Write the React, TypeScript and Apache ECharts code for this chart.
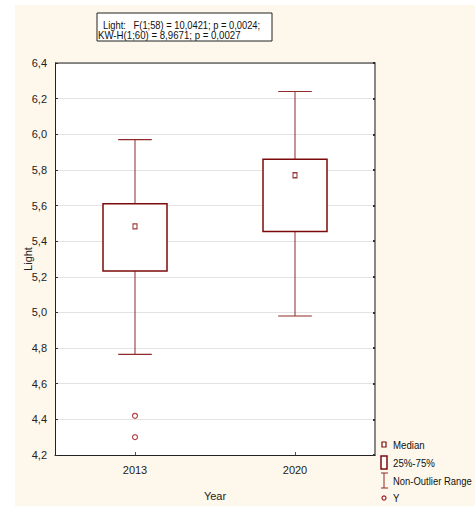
import React, { useEffect, useRef } from "react";
import * as echarts from "echarts";

const categories = ["2013", "2020"];
const whiskerMin = [4.765, 4.98];
const boxQ1 = [5.232, 5.455];
const boxQ3 = [5.61, 5.86];
const whiskerMax = [5.97, 6.24];
const medians = [5.483, 5.77];
const outliers2013 = [4.42, 4.3];
const yMin = 4.2;
const yMax = 6.4;
const yInterval = 0.2;
const statLine1 = "Light:   F(1;58) = 10,0421; p = 0,0024;";
const statLine2 = "KW-H(1;60) = 8,9671; p = 0,0027";
const legendLabels = ["Median", "25%-75%", "Non-Outlier Range", "Y"];

const FONT = "'Liberation Sans', Arial, sans-serif";
const DARK_RED = "#7d0a0a";
const WHISKER = "#8f2a2a";

export default function App() {
  const ref = useRef<HTMLDivElement>(null);
  useEffect(() => {
    if (!ref.current) return;
    const chart = echarts.init(ref.current, undefined, { renderer: "svg" });
    const fmt = (v: number) => v.toFixed(1).replace(".", ",");
    const boxData = categories.map((_, i) => [i, whiskerMin[i], boxQ1[i], boxQ3[i], whiskerMax[i]]);
    const legendX = 384;
    const legendTextX = 393;
    const txt = (s: string, x: number, y: number, sx: number, size = 11) => ({
      type: "text",
      x,
      y,
      scaleX: sx,
      style: { text: s, font: `${size}px ${FONT}`, fill: "#111", verticalAlign: "middle", align: "left" },
    });
    chart.setOption({
      animation: false,
      backgroundColor: "transparent",
      textStyle: { fontFamily: FONT },
      grid: { left: 55, right: 100, top: 63, bottom: 49, show: true, backgroundColor: "#ffffff", borderWidth: 0 },
      xAxis: {
        type: "category",
        data: categories,
        boundaryGap: true,
        name: "Year",
        nameLocation: "middle",
        nameGap: 35,
        nameTextStyle: { fontFamily: FONT, fontSize: 11, color: "#222" },
        axisLine: { show: true, lineStyle: { color: "#222", width: 1 } },
        axisTick: { show: true, inside: true, alignWithLabel: true, length: 3, lineStyle: { color: "#555" } },
        axisLabel: { fontFamily: FONT, fontSize: 11, color: "#222", margin: 9 },
        splitLine: { show: false },
      },
      yAxis: [
        {
          type: "value",
          min: yMin,
          max: yMax,
          interval: yInterval,
          name: "Light",
          nameLocation: "middle",
          nameRotate: 90,
          nameGap: 22,
          nameMoveOverlap: false,
          nameTextStyle: { fontFamily: FONT, fontSize: 11, color: "#222" },
          axisLine: { show: true, lineStyle: { color: "#222", width: 1 } },
          axisTick: { show: true, inside: true, length: 3, lineStyle: { color: "#333" } },
          axisLabel: { fontFamily: FONT, fontSize: 11, color: "#222", margin: 8, formatter: fmt },
          splitLine: { show: true, lineStyle: { color: "#e3e3e3", width: 1 } },
        },
        {
          type: "value",
          min: yMin,
          max: yMax,
          interval: yInterval,
          position: "right",
          axisLine: { show: true, lineStyle: { color: "#888", width: 2 } },
          axisTick: { show: true, inside: true, length: 2, lineStyle: { color: "#333", width: 2 } },
          axisLabel: { show: false },
          splitLine: { show: false },
        },
      ],
      graphic: [
        { type: "rect", z: -10, silent: true, shape: { x: 15, y: 5, width: 460, height: 501 }, style: { fill: "#fef8ec" } },
        { type: "line", z: 10, shape: { x1: 55, y1: 63, x2: 375, y2: 63 }, style: { stroke: "#222", lineWidth: 1 } },
        { type: "rect", shape: { x: 97, y: 13, width: 175, height: 28 }, style: { fill: "#fff", stroke: "#222", lineWidth: 1 } },
        txt(statLine1, 103, 25.5, 0.89, 10.5),
        txt(statLine2, 98, 35.5, 0.92, 10.5),
        // legend
        { type: "rect", shape: { x: legendX - 2, y: 442, width: 4, height: 5 }, style: { fill: "#fff", stroke: DARK_RED, lineWidth: 1.2 } },
        txt(legendLabels[0], legendTextX, 445, 0.88),
        { type: "rect", shape: { x: 381, y: 456, width: 6, height: 13 }, style: { fill: "#fff", stroke: DARK_RED, lineWidth: 1.5 } },
        txt(legendLabels[1], legendTextX, 463, 0.88),
        { type: "line", shape: { x1: legendX, y1: 473, x2: legendX, y2: 488 }, style: { stroke: WHISKER, lineWidth: 1 } },
        { type: "line", shape: { x1: 381, y1: 473, x2: 388, y2: 473 }, style: { stroke: WHISKER, lineWidth: 1 } },
        { type: "line", shape: { x1: 381, y1: 488, x2: 388, y2: 488 }, style: { stroke: WHISKER, lineWidth: 1 } },
        txt(legendLabels[2], legendTextX, 481, 0.86),
        { type: "circle", shape: { cx: legendX, cy: 498, r: 2 }, style: { fill: "#fff", stroke: "#a01818", lineWidth: 1.2 } },
        txt(legendLabels[3], legendTextX, 498, 0.88),
      ],
      series: [
        {
          type: "custom",
          data: boxData,
          z: 3,
          renderItem: (params: any, api: any) => {
            const idx = api.value(0);
            const pMin = api.coord([idx, api.value(1)]);
            const pQ1 = api.coord([idx, api.value(2)]);
            const pQ3 = api.coord([idx, api.value(3)]);
            const pMax = api.coord([idx, api.value(4)]);
            const bw = api.size([1, 0])[0];
            const boxW = bw * 0.4;
            const capW = bw * 0.21;
            const x = pMin[0];
            return {
              type: "group",
              children: [
                { type: "line", shape: { x1: x, y1: pMax[1], x2: x, y2: pQ3[1] }, style: { stroke: WHISKER, lineWidth: 1 } },
                { type: "line", shape: { x1: x, y1: pQ1[1], x2: x, y2: pMin[1] }, style: { stroke: WHISKER, lineWidth: 1 } },
                { type: "line", shape: { x1: x - capW / 2, y1: pMax[1], x2: x + capW / 2, y2: pMax[1] }, style: { stroke: WHISKER, lineWidth: 1.2 } },
                { type: "line", shape: { x1: x - capW / 2, y1: pMin[1], x2: x + capW / 2, y2: pMin[1] }, style: { stroke: WHISKER, lineWidth: 1.2 } },
                { type: "rect", shape: { x: x - boxW / 2, y: pQ3[1], width: boxW, height: pQ1[1] - pQ3[1] }, style: { fill: "#ffffff", stroke: DARK_RED, lineWidth: 1.5 } },
              ],
            };
          },
        },
        {
          type: "scatter",
          z: 5,
          data: categories.map((c, i) => [c, medians[i]]),
          symbol: "rect",
          symbolSize: [4, 5],
          itemStyle: { color: "#ffffff", borderColor: DARK_RED, borderWidth: 1.2 },
        },
        {
          type: "scatter",
          z: 5,
          data: outliers2013.map((v) => [categories[0], v]),
          symbol: "circle",
          symbolSize: 5,
          itemStyle: { color: "#ffffff", borderColor: "#a01818", borderWidth: 1.2 },
        },
      ],
    });
    return () => chart.dispose();
  }, []);
  return <div ref={ref} style={{ position: "absolute", left: 0, top: 0, width: 475, height: 506 }} />;
}
